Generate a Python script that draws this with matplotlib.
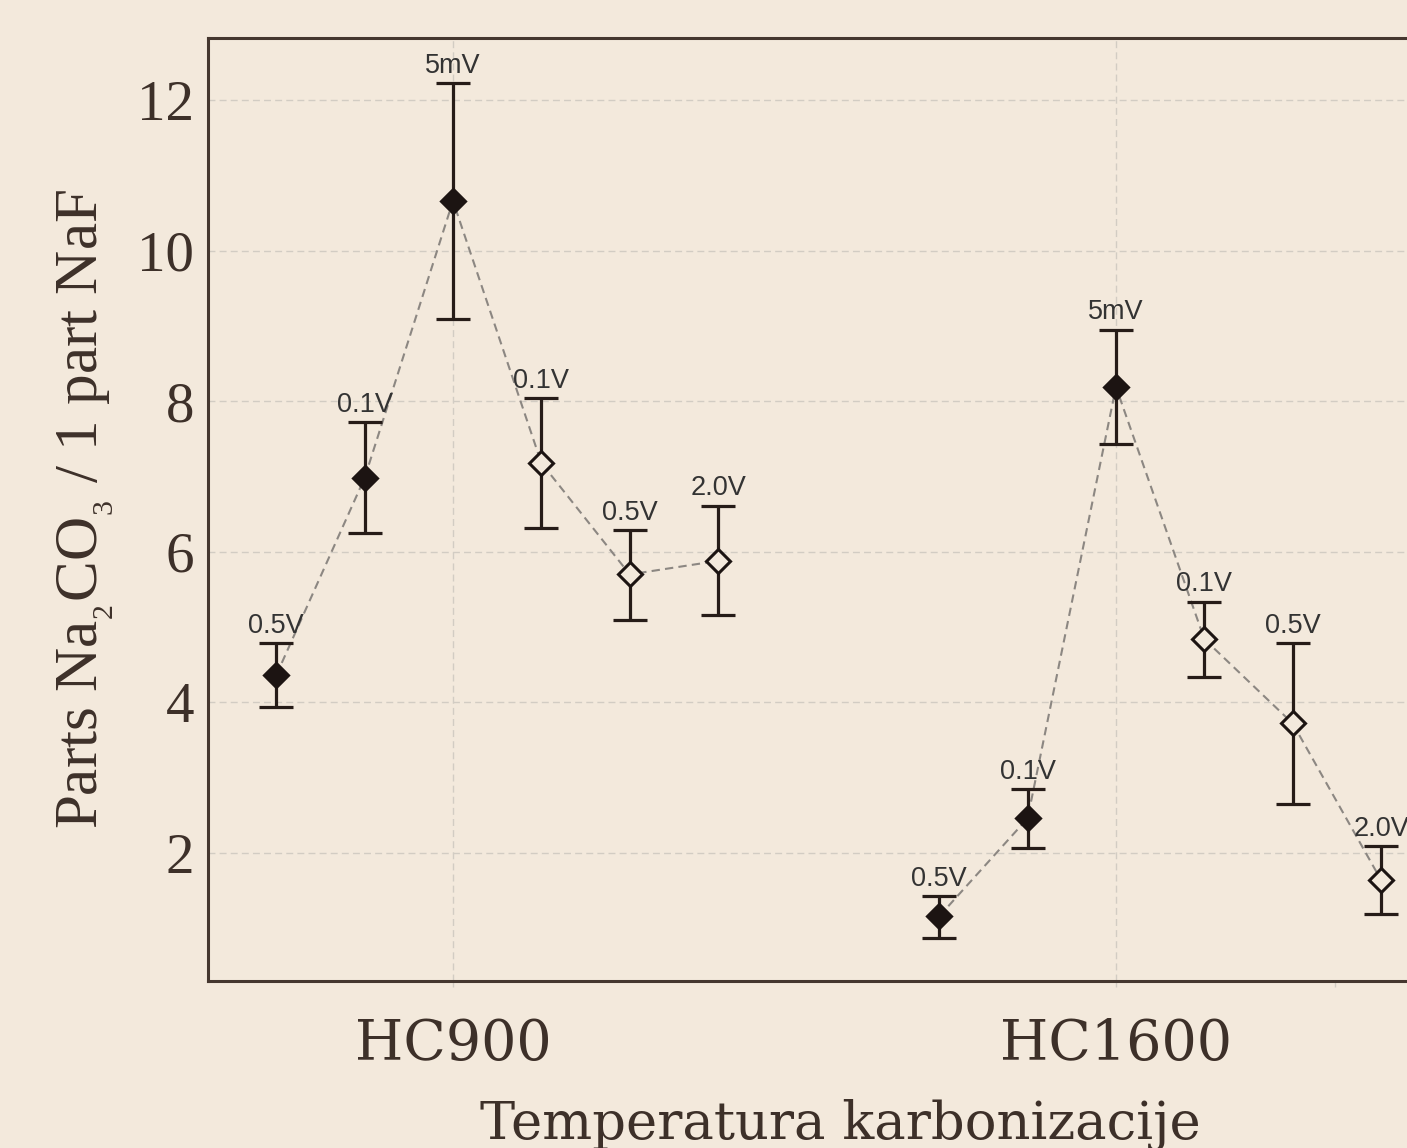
import numpy as np
import matplotlib.pyplot as plt

plt.rcParams['mathtext.fontset'] = 'custom'
plt.rcParams['mathtext.rm'] = 'Liberation Serif'

# data
groups = ['HC900', 'HC1600']
voltages = ['0.5V', '0.1V', '5mV', '0.1V', '0.5V', '2.0V']
filled = [True, True, True, False, False, False]

hc900_mean = [4.36, 6.98, 10.66, 7.18, 5.70, 5.88]
hc900_upper = [4.79, 7.72, 12.22, 8.04, 6.29, 6.61]
hc900_lower = [3.94, 6.25, 9.09, 6.32, 5.09, 5.16]

hc1600_mean = [1.16, 2.46, 8.19, 4.84, 3.72, 1.64]
hc1600_upper = [1.43, 2.85, 8.95, 5.34, 4.79, 2.09]
hc1600_lower = [0.875, 2.07, 7.43, 4.34, 2.65, 1.19]

yticks = [2, 4, 6, 8, 10, 12]

bg = '#f3e9dc'
dark = '#1c1412'
spine_col = '#45372f'
text_col = '#3d3029'
grid_col = '#d2ccc3'

fig = plt.figure(figsize=(14.07, 11.48), dpi=100, facecolor=bg)
W, H = 1407, 1148
ax = fig.add_axes([208 / W, (H - 980.7) / H, 1264 / W, (980.7 - 38.3) / H])
ax.set_facecolor(bg)

step = 0.1333
offsets = (np.arange(len(voltages)) - 2) * step

series = [(hc900_mean, hc900_upper, hc900_lower),
          (hc1600_mean, hc1600_upper, hc1600_lower)]

for gi, (mean, upper, lower) in enumerate(series):
    x = gi + offsets
    mean = np.array(mean)
    upper = np.array(upper)
    lower = np.array(lower)
    ax.plot(x, mean, color='#8c8782', lw=1.5, ls=(0, (4, 2.5)), zorder=2)
    ax.errorbar(x, mean, yerr=[mean - lower, upper - mean], fmt='none',
                ecolor='#261c18', elinewidth=2.3, capsize=12.5, capthick=2.3,
                zorder=3)
    for xi, yi, f in zip(x, mean, filled):
        ax.plot(xi, yi, marker='D', ms=12.5, mew=2.2, mec=dark,
                mfc=dark if f else bg, ls='none', zorder=4)
    for xi, up, lab in zip(x, upper, voltages):
        ax.annotate(lab, (xi, up), xytext=(0, 7.5), textcoords='offset points',
                    ha='center', va='baseline', fontsize=19.5,
                    family='Liberation Sans', color='#333333', zorder=5)

ax.set_xlim(-0.3695, 1.537)
ax.set_ylim(0.304, 12.82)

ax.set_xticks(range(len(groups)))
ax.set_xticklabels(groups, family='DejaVu Serif', fontsize=40, color=text_col)
ax.set_xticks([1.33], minor=True)
ax.set_yticks(yticks)
ax.set_yticklabels([str(v) for v in yticks], family='Liberation Serif',
                   fontsize=41, color=text_col)

ax.tick_params(axis='x', which='both', length=4, width=1, color=grid_col, pad=22)
ax.tick_params(axis='y', length=0, pad=10)

ax.grid(True, which='major', color=grid_col, lw=1, ls=(0, (5, 3)), zorder=0)
ax.set_axisbelow(True)

for side in ['top', 'left', 'bottom', 'right']:
    ax.spines[side].set_color(spine_col)
    ax.spines[side].set_linewidth(2.2)

ax.set_ylabel(r'Parts Na$_{_\mathrm{2}}$CO$_{_\mathrm{3}}$ / 1 part NaF',
              family='Liberation Serif', fontsize=44, color=text_col, labelpad=15)
ax.set_xlabel('Temperatura karbonizacije', family='DejaVu Serif',
              fontsize=38, color=text_col, labelpad=20)

fig.savefig('out.png', dpi=100, facecolor=bg)
